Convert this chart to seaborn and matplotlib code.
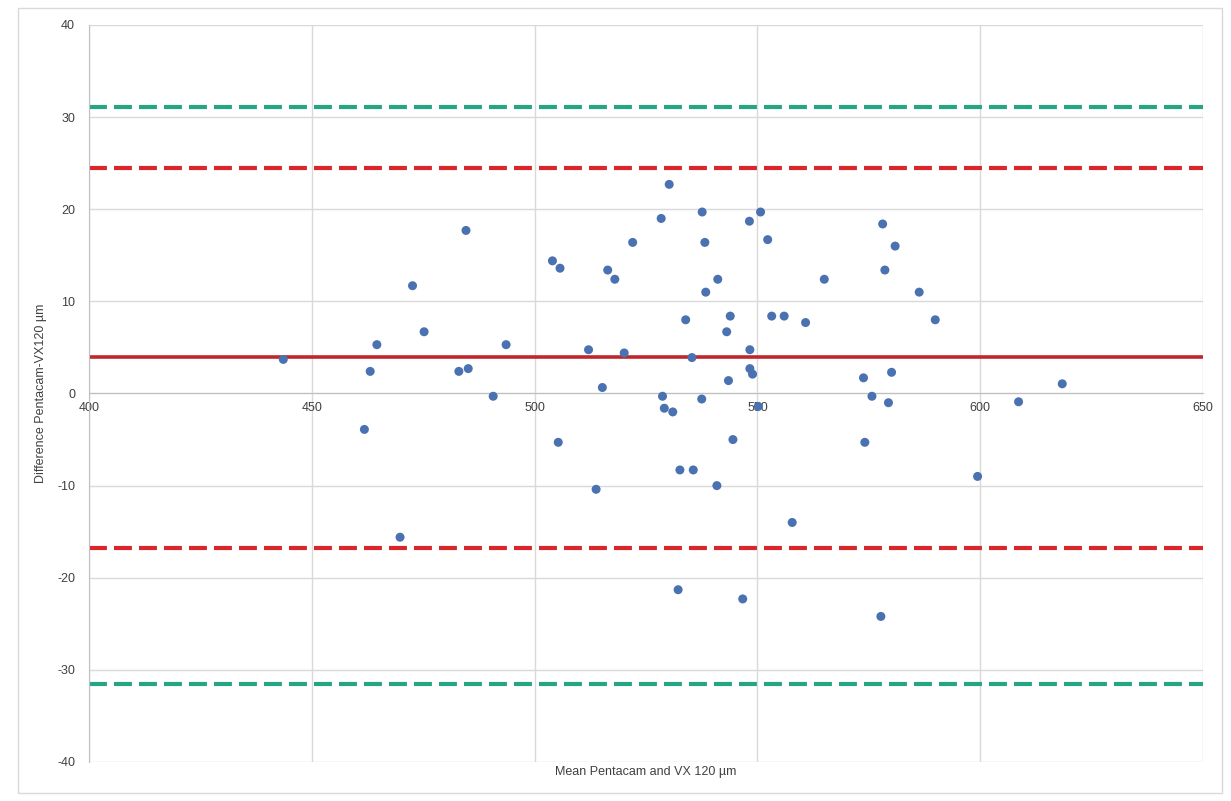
import pandas as pd
import matplotlib
matplotlib.use("Agg")
import matplotlib.pyplot as plt
import seaborn as sns

# Mean of the two devices (x) and their difference (y)
mean_vals = [443.6, 461.8, 463.1, 464.6, 469.8, 472.6, 475.2, 483.0, 485.1, 484.6,
             490.7, 493.6, 504.0, 505.7, 505.3, 512.1, 513.8, 515.2, 516.4, 518.0,
             520.1, 522.0, 528.4, 530.2, 528.7, 529.1, 531.0, 532.6, 533.9, 532.2,
             535.6, 535.3, 537.6, 538.2, 538.4, 537.5, 540.9, 541.1, 543.1, 543.9,
             543.5, 544.5, 546.7, 548.2, 548.3, 548.3, 548.9, 550.2, 550.7, 552.3,
             553.2, 556.0, 557.8, 560.8, 565.0, 573.8, 574.1, 575.7, 578.1, 578.6,
             577.7, 579.4, 580.1, 580.9, 586.3, 589.9, 599.4, 608.6, 618.4]
diff_vals = [3.7, -3.9, 2.4, 5.3, -15.6, 11.7, 6.7, 2.4, 2.7, 17.7,
             -0.3, 5.3, 14.4, 13.6, -5.3, 4.75, -10.4, 0.65, 13.4, 12.4,
             4.4, 16.4, 19.0, 22.7, -0.3, -1.6, -2.0, -8.3, 8.0, -21.3,
             -8.3, 3.9, 19.7, 16.4, 11.0, -0.6, -10.0, 12.4, 6.7, 8.4,
             1.4, -5.0, -22.3, 18.7, 4.75, 2.7, 2.1, -1.4, 19.7, 16.7,
             8.4, 8.4, -14.0, 7.7, 12.4, 1.7, -5.3, -0.3, 18.4, 13.4,
             -24.2, -1.0, 2.3, 16.0, 11.0, 8.0, -9.0, -0.9, 1.05]

bias = 4.0
loa_upper = 24.5
loa_lower = -16.8
outer_upper = 31.1
outer_lower = -31.5

x_ticks = [400, 450, 500, 550, 600, 650]
y_ticks = [-40, -30, -20, -10, 0, 10, 20, 30, 40]

df = pd.DataFrame({"mean": mean_vals, "diff": diff_vals})

sns.set_style("white")
plt.rcParams["font.family"] = ["Liberation Sans", "DejaVu Sans"]
plt.rcParams["axes.unicode_minus"] = False

fig = plt.figure(figsize=(12.31, 8.01), dpi=100)
ax = fig.add_axes([0.0723, 0.0487, 0.905, 0.9201])

ax.grid(True, color="#D9D9D9", linewidth=1)
ax.set_axisbelow(True)

red = "#D9262B"
green = "#25A584"
ax.axhline(outer_upper, color=green, lw=3, dashes=(4.3, 1.7), zorder=2)
ax.axhline(outer_lower, color=green, lw=3, dashes=(4.3, 1.7), zorder=2)
ax.axhline(loa_upper, color=red, lw=3, dashes=(4.3, 1.7), zorder=2)
ax.axhline(loa_lower, color=red, lw=3, dashes=(4.3, 1.7), zorder=2)
ax.axhline(bias, color="#C0272D", lw=2.6, zorder=2)

sns.scatterplot(data=df, x="mean", y="diff", ax=ax, color="#4A72B0",
                s=42, edgecolor="none", zorder=3)

ax.set_xlim(400, 650)
ax.set_ylim(-40, 40)
ax.set_xticks(x_ticks)
ax.set_yticks(y_ticks)

for side in ["top", "right"]:
    ax.spines[side].set_visible(False)
ax.spines["bottom"].set_position(("data", 0))
ax.spines["bottom"].set_color("#BFBFBF")
ax.spines["left"].set_color("#BFBFBF")
ax.tick_params(axis="both", length=0, labelsize=9, labelcolor="#404040")
ax.tick_params(axis="x", pad=6)
ax.tick_params(axis="y", pad=10)

ax.set_xlabel("Mean Pentacam and VX 120 µm", fontsize=9, color="#404040")
ax.set_ylabel("Difference Pentacam-VX120 µm", fontsize=9, color="#404040")
ax.xaxis.set_label_coords(0.5, -0.006)
ax.yaxis.set_label_coords(-0.038, 0.5)

# light frame round the whole chart
fig.patches.append(plt.Rectangle((0.015, 0.01), 0.978, 0.98, transform=fig.transFigure,
                                 fill=False, edgecolor="#D9D9D9", linewidth=1))

fig.savefig("out.png", dpi=100)
